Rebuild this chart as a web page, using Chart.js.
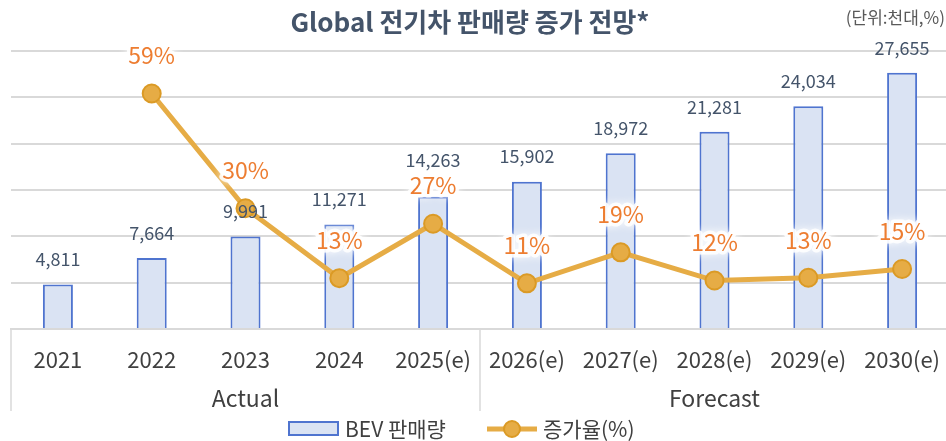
<!DOCTYPE html>
<html><head><meta charset="utf-8">
<script src="https://cdn.jsdelivr.net/npm/chart.js@4"></script>
<style>html,body{margin:0;padding:0;background:#fff;overflow:hidden}#wrap{width:960px;height:441px;position:relative}</style>
</head><body><div id="wrap"><canvas id="c"></canvas></div>
<script>
const categories = ['2021','2022','2023','2024','2025(e)','2026(e)','2027(e)','2028(e)','2029(e)','2030(e)'];
const bevSales = [4811, 7664, 9991, 11271, 14263, 15902, 18972, 21281, 24034, 27655];
const growthRate = [null, 59.3, 30.4, 12.8, 26.5, 11.5, 19.3, 12.2, 12.9, 15.1];
const growthLabels = [null, '59%', '30%', '13%', '27%', '11%', '19%', '12%', '13%', '15%'];
const groups = [{label:'Actual', from:0, to:4}, {label:'Forecast', from:5, to:9}];
const titleText = 'Global 전기차 판매량 증가 전망*';
const unitText = '(단위:천대,%)';
const seriesNames = ['BEV 판매량', '증가율(%)'];

const FONT = '"Noto Sans CJK KR", "Noto Sans", sans-serif';
const BAR_FILL = '#DAE3F3', BAR_BORDER = '#4F74CF';
const LINE_COLOR = '#E6AC45', POINT_BORDER = '#DB9A25';

const overlay = {
  id: 'overlay',
  afterDatasetsDraw(chart) {
    const ctx = chart.ctx;
    const x = chart.scales.x, y = chart.scales.y, y1 = chart.scales.y1;
    const area = chart.chartArea;
    ctx.save();
    // title
    ctx.fillStyle = '#44546A';
    ctx.font = 'bold 26px ' + FONT;
    ctx.textAlign = 'center'; ctx.textBaseline = 'middle';
    ctx.fillText(titleText, 470, 22);
    ctx.font = '17px ' + FONT;
    ctx.textAlign = 'right';
    ctx.fillStyle = '#595959';
    ctx.fillText(unitText, 945, 18);

    // line labels positions
    const lineBoxes = [];
    growthRate.forEach((v, i) => {
      if (v == null) return;
      const px = x.getPixelForValue(i), py = y1.getPixelForValue(v) - 38;
      lineBoxes[i] = {cx: px, cy: py, top: py - 12, bottom: py + 12};
    });
    // bar labels
    ctx.font = '18px ' + FONT;
    ctx.textAlign = 'center'; ctx.textBaseline = 'middle';
    ctx.fillStyle = '#44546A';
    bevSales.forEach((v, i) => {
      const px = x.getPixelForValue(i);
      let py = y.getPixelForValue(v) - 25;
      const lb = lineBoxes[i];
      if (lb && py + 9 > lb.top && py - 9 < lb.bottom) py = lb.top - 14;
      ctx.fillText(v.toLocaleString('en-US'), px, py);
    });
    // growth labels with halo
    ctx.font = '23px ' + FONT;
    lineBoxes.forEach((b, i) => {
      if (!b) return;
      const t = growthLabels[i];
      ctx.save();
      ctx.shadowColor = 'rgba(255,255,255,1)';
      ctx.shadowBlur = 8;
      ctx.strokeStyle = 'rgba(255,255,255,0.85)';
      ctx.lineWidth = 7; ctx.lineJoin = 'round';
      ctx.strokeText(t, b.cx, b.cy);
      ctx.restore();
      ctx.fillStyle = '#ED7D31';
      ctx.fillText(t, b.cx, b.cy);
    });

    // group labels and dividers
    const step = x.getPixelForValue(1) - x.getPixelForValue(0);
    ctx.strokeStyle = '#D9D9D9'; ctx.lineWidth = 1.5;
    const bounds = [x.getPixelForValue(0) - step / 2, x.getPixelForValue(5) - step / 2];
    bounds.forEach(bx => {
      ctx.beginPath(); ctx.moveTo(bx, area.bottom); ctx.lineTo(bx, 411); ctx.stroke();
    });
    ctx.font = '23px ' + FONT;
    ctx.fillStyle = '#404040';
    groups.forEach(g => {
      const cx = (x.getPixelForValue(g.from) + x.getPixelForValue(g.to)) / 2;
      ctx.fillText(g.label, cx, 398);
    });

    // legend
    ctx.font = '21px ' + FONT;
    ctx.textAlign = 'left';
    ctx.fillStyle = BAR_FILL; ctx.strokeStyle = BAR_BORDER; ctx.lineWidth = 2;
    ctx.fillRect(289, 422, 49, 13); ctx.strokeRect(289, 422, 49, 13);
    ctx.fillStyle = '#404040';
    ctx.fillText(seriesNames[0], 345, 429);
    ctx.strokeStyle = LINE_COLOR; ctx.lineWidth = 5;
    ctx.beginPath(); ctx.moveTo(487, 429); ctx.lineTo(537, 429); ctx.stroke();
    ctx.beginPath(); ctx.arc(512, 429, 8, 0, Math.PI * 2);
    ctx.fillStyle = LINE_COLOR; ctx.fill();
    ctx.lineWidth = 2; ctx.strokeStyle = POINT_BORDER; ctx.stroke();
    ctx.fillStyle = '#404040';
    ctx.fillText(seriesNames[1], 543, 429);
    ctx.restore();
  }
};

new Chart(document.getElementById('c'), {
  data: {
    labels: categories,
    datasets: [
      {
        type: 'line', label: seriesNames[1], data: growthRate, yAxisID: 'y1',
        borderColor: LINE_COLOR, borderWidth: 5, backgroundColor: LINE_COLOR,
        pointRadius: 9, pointBorderColor: POINT_BORDER, pointBorderWidth: 2,
        pointBackgroundColor: LINE_COLOR, tension: 0, order: 0, spanGaps: false
      },
      {
        type: 'bar', label: seriesNames[0], data: bevSales, yAxisID: 'y',
        backgroundColor: BAR_FILL, borderColor: BAR_BORDER, borderWidth: 2,
        barPercentage: 0.32, categoryPercentage: 1, order: 1
      }
    ]
  },
  options: {
    responsive: true, maintainAspectRatio: false, animation: false,
    layout: {padding: {top: 51, left: 10, right: 0, bottom: 0}},
    plugins: {legend: {display: false}, tooltip: {enabled: false}, title: {display: false}},
    scales: {
      x: {
        grid: {display: false},
        border: {display: true, color: '#D9D9D9', width: 2},
        ticks: {color: '#404040', font: {family: FONT, size: 22}, padding: 9, maxRotation: 0, autoSkip: false},
        afterFit: s => { s.height = 112; s.paddingLeft = 0; s.paddingRight = 0; }
      },
      y: {
        position: 'left', min: 0, max: 30000,
        ticks: {display: false, stepSize: 5000},
        grid: {color: '#D9D9D9', lineWidth: 2, drawTicks: false},
        border: {display: false},
        afterFit: s => { s.width = 0; }
      },
      y1: {
        position: 'right', min: 0, max: 70, display: false
      }
    }
  },
  plugins: [overlay]
});
</script></body></html>
